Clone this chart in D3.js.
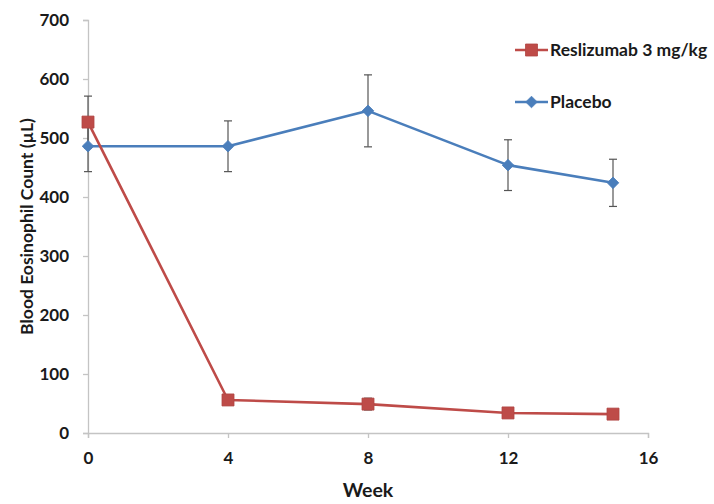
<!DOCTYPE html>
<html>
<head>
<meta charset="utf-8">
<script src="https://cdn.jsdelivr.net/npm/d3@7"></script>
<style>
  html, body { margin: 0; padding: 0; background: #fff; }
  svg { display: block; font-family: "Lato", "Open Sans", sans-serif; }
</style>
</head>
<body>
<svg id="chart" width="714" height="504"></svg>
<script>
// Blood eosinophil counts by week
const weeks = [0, 4, 8, 12, 15];
const reslizumab = [527, 56, 49, 34, 32];
const reslizumabErr = [44, 4, 10, 4, 4];
const placebo = [486, 486, 546, 454, 424];
const placeboErr = [43, 43, 61, 43, 40];
const xTicks = [0, 4, 8, 12, 16];
const yTicks = [0, 100, 200, 300, 400, 500, 600, 700];

const seriesList = [
  { name: "Placebo", values: placebo, err: placeboErr, color: "#4a7ebb", marker: "diamond" },
  { name: "Reslizumab 3 mg/kg", values: reslizumab, err: reslizumabErr, color: "#be4b48", marker: "square" }
];

const svg = d3.select("#chart");
const x = d3.scaleLinear().domain([0, 16]).range([88, 648]);
const y = d3.scaleLinear().domain([0, 700]).range([433, 20]);
const axisColor = "#c4c4c4";
const textColor = "#1a1a1a";

// Axes
const gx = svg.append("g").attr("transform", `translate(0,${y(0)})`)
  .call(d3.axisBottom(x).tickValues(xTicks).tickSize(5).tickPadding(14));
const gy = svg.append("g").attr("transform", `translate(${x(0)},0)`)
  .call(d3.axisLeft(y).tickValues(yTicks).tickSize(5).tickPadding(14));
[gx, gy].forEach(g => {
  g.select(".domain").attr("stroke", axisColor).attr("stroke-width", 1.3);
  g.selectAll(".tick line").attr("stroke", axisColor).attr("stroke-width", 1.3);
  g.selectAll(".tick text").attr("fill", textColor).attr("font-size", 17)
    .attr("font-weight", "bold").attr("font-family", "Lato, 'Open Sans', sans-serif");
});

// Axis titles
svg.append("text").attr("x", 368).attr("y", 497).attr("text-anchor", "middle")
  .attr("font-size", 19.5).attr("font-weight", "bold").attr("fill", textColor).text("Week");
svg.append("text").attr("transform", `translate(33,${y(350)}) rotate(-90)`)
  .attr("text-anchor", "middle").attr("font-size", 17.5).attr("font-weight", "bold")
  .attr("fill", textColor).text("Blood Eosinophil Count (µL)");

// Error bars
const capW = 4;
seriesList.forEach(s => {
  const g = svg.append("g");
  weeks.forEach((w, i) => {
    const v = s.values[i], e = s.err[i];
    const cx = x(w);
    g.append("line").attr("x1", cx).attr("x2", cx).attr("y1", y(v - e)).attr("y2", y(v + e))
      .attr("stroke", "#555").attr("stroke-width", 1.2);
    [v - e, v + e].forEach(t => {
      g.append("line").attr("x1", cx - capW).attr("x2", cx + capW).attr("y1", y(t)).attr("y2", y(t))
        .attr("stroke", "#555").attr("stroke-width", 1.2);
    });
  });
});

// Lines and markers
const line = d3.line().x(d => x(d[0])).y(d => y(d[1]));
const diamondPath = "M0,-5.8L5.8,0L0,5.8L-5.8,0Z";
const square = d3.symbol().type(d3.symbolSquare).size(144);

function drawMarker(g, kind, cx, cy, color) {
  g.append("path").attr("d", kind === "square" ? square() : diamondPath)
    .attr("transform", `translate(${cx},${cy})`).attr("fill", color)
    .attr("stroke", kind === "square" ? "#b04542" : color).attr("stroke-width", 0.8);
}

seriesList.forEach(s => {
  const pts = weeks.map((w, i) => [w, s.values[i]]);
  svg.append("path").datum(pts).attr("d", line).attr("fill", "none")
    .attr("stroke", s.color).attr("stroke-width", 2.6).attr("stroke-linejoin", "round");
  const g = svg.append("g");
  pts.forEach(p => drawMarker(g, s.marker, x(p[0]), y(p[1]), s.color));
});

// Legend
const legendItems = [
  { s: seriesList[1], yPos: 50 },
  { s: seriesList[0], yPos: 102 }
];
legendItems.forEach(({ s, yPos }) => {
  const g = svg.append("g");
  g.append("line").attr("x1", 515).attr("x2", 548).attr("y1", yPos).attr("y2", yPos)
    .attr("stroke", s.color).attr("stroke-width", 2.6);
  drawMarker(g, s.marker, 531.5, yPos, s.color);
  g.append("text").attr("x", 550).attr("y", yPos).attr("dy", "0.35em")
    .attr("font-size", 17.5).attr("font-weight", "bold").attr("fill", textColor).text(s.name);
});
</script>
</body>
</html>
